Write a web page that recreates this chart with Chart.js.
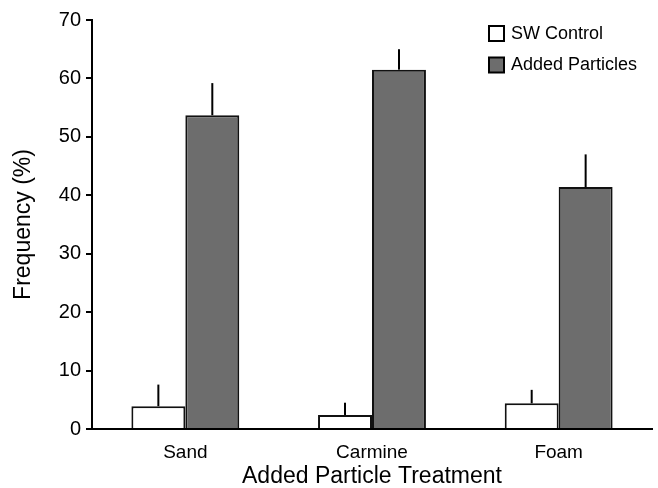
<!DOCTYPE html>
<html>
<head>
<meta charset="utf-8">
<script src="https://cdn.jsdelivr.net/npm/chart.js@4.4.1/dist/chart.umd.min.js"></script>
<style>
  html, body { margin: 0; padding: 0; background: #fff; }
  #wrap { width: 658px; height: 488px; }
</style>
</head>
<body>
<div id="wrap"><canvas id="freqChart" width="658" height="488"></canvas></div>
<script>
// Values (frequency, %)
const treatments = ['Sand', 'Carmine', 'Foam'];
const controlValues = [3.9, 2.4, 4.4];
const controlErrors = [3.7, 2.1, 2.3];
const particleValues = [53.7, 61.5, 41.4];
const particleErrors = [5.5, 3.5, 5.6];
const yTicks = [0, 10, 20, 30, 40, 50, 60, 70];

const FONT = "'Liberation Sans', Arial, Helvetica, sans-serif";

// Upper-only error bars, no caps
const errorBars = {
  id: 'errorBars',
  afterDatasetsDraw(chart) {
    const ctx = chart.ctx;
    const yScale = chart.scales.y;
    ctx.save();
    ctx.strokeStyle = '#000';
    ctx.lineWidth = 2;
    chart.data.datasets.forEach((ds, i) => {
      const meta = chart.getDatasetMeta(i);
      meta.data.forEach((bar, j) => {
        const top = yScale.getPixelForValue(ds.data[j] + ds.errors[j]);
        ctx.beginPath();
        ctx.moveTo(bar.x, bar.y);
        ctx.lineTo(bar.x, top);
        ctx.stroke();
      });
    });
    ctx.restore();
  }
};

// Legend in the upper right corner of the plot
const cornerLegend = {
  id: 'cornerLegend',
  afterDraw(chart) {
    const ctx = chart.ctx;
    const area = chart.chartArea;
    const x0 = area.right - 163;
    ctx.save();
    ctx.font = '18px ' + FONT;
    ctx.textBaseline = 'middle';
    chart.data.datasets.forEach((ds, i) => {
      const yc = 33 + i * 31.5;
      ctx.fillStyle = ds.backgroundColor;
      ctx.fillRect(x0, yc - 7, 15, 15);
      ctx.strokeStyle = '#000';
      ctx.lineWidth = 2;
      ctx.strokeRect(x0, yc - 7, 15, 15);
      ctx.fillStyle = '#000';
      ctx.fillText(ds.label, x0 + 22, yc + 1);
    });
    ctx.restore();
  }
};

new Chart(document.getElementById('freqChart'), {
  type: 'bar',
  data: {
    labels: treatments,
    datasets: [
      {
        label: 'SW Control',
        data: controlValues,
        errors: controlErrors,
        backgroundColor: '#ffffff',
        borderColor: '#111',
        borderWidth: 2
      },
      {
        label: 'Added Particles',
        data: particleValues,
        errors: particleErrors,
        backgroundColor: '#6d6d6d',
        borderColor: '#111',
        borderWidth: 2
      }
    ]
  },
  options: {
    responsive: false,
    animation: false,
    layout: { padding: { top: 20, right: 6, left: 0, bottom: 0 } },
    datasets: {
      bar: { categoryPercentage: 0.578, barPercentage: 1.0 }
    },
    plugins: {
      legend: { display: false },
      tooltip: { enabled: false }
    },
    scales: {
      x: {
        grid: { display: false },
        border: { display: true, color: '#000', width: 2 },
        ticks: { color: '#000', font: { family: FONT, size: 19 }, padding: 4 },
        title: {
          display: true,
          text: 'Added Particle Treatment',
          color: '#000',
          font: { family: FONT, size: 23, lineHeight: 1 },
          padding: { top: 0, bottom: 0 }
        },
        afterFit(scale) { scale.height = 59; }
      },
      y: {
        min: 0,
        max: 70,
        afterBuildTicks(scale) { scale.ticks = yTicks.map(v => ({ value: v })); },
        grid: {
          drawOnChartArea: false,
          drawTicks: true,
          tickLength: 6,
          color: '#000',
          lineWidth: 2
        },
        border: { display: true, color: '#000', width: 2 },
        ticks: { color: '#000', font: { family: FONT, size: 20 }, padding: 5 },
        title: {
          display: true,
          text: 'Frequency (%)',
          color: '#000',
          font: { family: FONT, size: 23, lineHeight: 1 },
          padding: { top: 12, bottom: 0 }
        },
        afterFit(scale) { scale.width = 92; }
      }
    }
  },
  plugins: [errorBars, cornerLegend]
});
</script>
</body>
</html>
